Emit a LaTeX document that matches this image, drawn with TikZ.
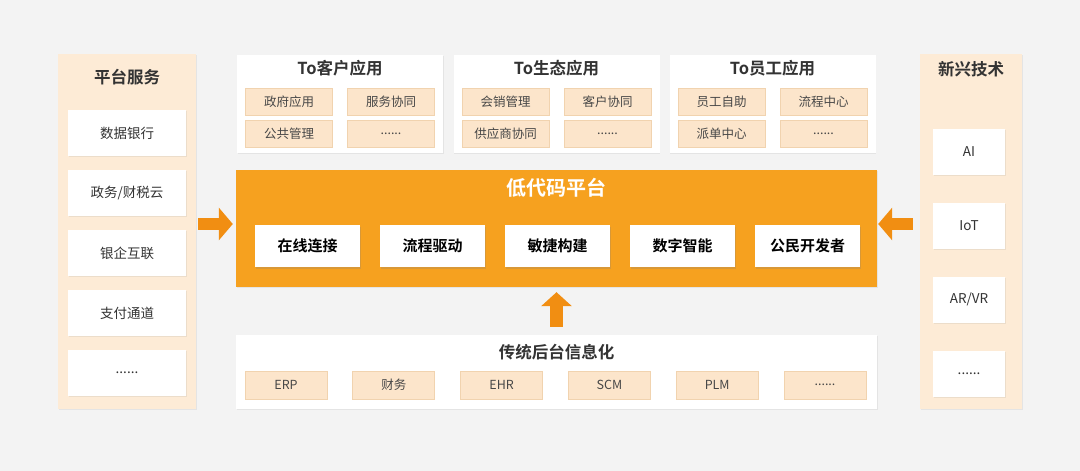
\documentclass[tikz,border=0pt]{standalone}
\usepackage{fontspec}
\setmainfont{Noto Sans CJK SC}[BoldFont={Noto Sans CJK SC Bold}]
\usetikzlibrary{arrows.meta,shadows}
\definecolor{bggray}{HTML}{F3F3F3}
\definecolor{peach}{HTML}{FDEBD6}
\definecolor{cellfill}{HTML}{FCE5CB}
\definecolor{cellline}{HTML}{F1D3AF}
\definecolor{lcorange}{HTML}{F6A11F}
\definecolor{arrorange}{HTML}{F18E12}
\definecolor{txtgray}{HTML}{333333}
\newcommand{\moredots}{......}

\begin{document}
\begin{tikzpicture}[x=1pt,y=-1pt,
  fsz/.style={font=\fontsize{#1}{#1}\selectfont},
  bsz/.style={font=\fontsize{#1}{#1}\selectfont\bfseries},
  shd/.style={drop shadow={shadow xshift=0.6pt,shadow yshift=-1.2pt,opacity=0.13}},
  panel/.style n args={2}{rectangle,fill=peach,shd,minimum width=#1,minimum height=#2,inner sep=0pt},
  wbox/.style n args={2}{rectangle,fill=white,shd,minimum width=#1,minimum height=#2,inner sep=0pt,text=txtgray,fsz=13.5},
  cell/.style n args={2}{rectangle,fill=cellfill,draw=cellline,line width=0.8pt,minimum width=#1,minimum height=#2,inner sep=0pt,text=txtgray!90,fsz=12.5},
  ttl/.style={text=txtgray,bsz=16.5},
  keybox/.style={rectangle,fill=white,drop shadow={shadow xshift=0.8pt,shadow yshift=-1.5pt,opacity=0.25},minimum width=105,minimum height=42,inner sep=0pt,bsz=15},
  fatarrow/.style n args={2}{draw=arrorange,line width=#1,-{Triangle[width=#2,length=14pt]}}]
\fill[bggray] (0,0) rectangle (1080,471);
\useasboundingbox (0,0) rectangle (1080,471);
% left column
\node[panel={138}{355}] (svc) at (127,231.5) {};
\node[ttl] (svc-t) at (127,77) {平台服务};
\foreach \y/\t [count=\i] in %
{133/数据银行,193/{政务/财税云},253/银企互联,313/支付通道,373/\moredots} {
   \node[wbox={118}{46}] (svc-\i) at (127,\y) {\t};
}
% right column
\node[panel={102}{355}] (tech) at (971,231.5) {};
\node[ttl] (tech-t) at (971,69) {新兴技术};
\foreach \y/\t [count=\i] in %
{151.5/AI,225.5/IoT,299.5/{AR/VR},373.5/\moredots} {
   \node[wbox={72}{46}] (tech-\i) at (969,\y) {\t};
}
% application layer
\foreach \x/\nm/\t/\a/\b/\c in %
{340/cust/To客户应用/政府应用/服务协同/公共管理,
 556.5/eco/To生态应用/会销管理/客户协同/供应商协同,
 772.5/staff/To员工应用/员工自助/流程中心/派单中心} {
   \node[wbox={206}{98}] (\nm) at (\x,104) {};
   \node[ttl] (\nm-t) at (\x,68) {\t};
   \node[cell={87}{27}] (\nm-1) at (\x-51,101.5) {\a};
   \node[cell={87}{27}] (\nm-2) at (\x+51,101.5) {\b};
   \node[cell={87}{27}] (\nm-3) at (\x-51,133.5) {\c};
   \node[cell={87}{27}] (\nm-4) at (\x+51,133.5) {\moredots};
}
% low-code platform
\node[rectangle,fill=lcorange,shd,minimum width=641,minimum height=117,inner sep=0pt] (lcp) at (556.5,228.5) {};
\node[text=white,bsz=20] (lcp-t) at (556.5,188) {低代码平台};
\foreach \x/\t [count=\i] in %
{307.5/在线连接,432.5/流程驱动,557.5/敏捷构建,682.5/数字智能,807.5/公民开发者} {
   \node[keybox] (lcp-\i) at (\x,246) {\t};
}
% legacy back office
\node[wbox={641}{74}] (bko) at (556.5,372) {};
\node[ttl] (bko-t) at (556.5,352) {传统后台信息化};
\foreach \x/\t [count=\i] in %
{286/ERP,393.8/财务,501.6/EHR,609.4/SCM,717.2/PLM,825/\moredots} {
   \node[cell={82}{28}] (bko-\i) at (\x,385) {\t};
}
% arrows
\coordinate (ay) at (0,224);
\draw[fatarrow={12pt}{32pt},shorten <=2pt,shorten >=3pt] (svc.east |- ay) -- (lcp.west |- ay);
\draw[fatarrow={12pt}{32pt},shorten <=7pt,shorten >=1pt] (tech.west |- ay) -- (lcp.east |- ay);
\draw[fatarrow={13pt}{30pt},shorten <=8pt,shorten >=5pt] (bko.north) -- (lcp.south);
\end{tikzpicture}
\end{document}
